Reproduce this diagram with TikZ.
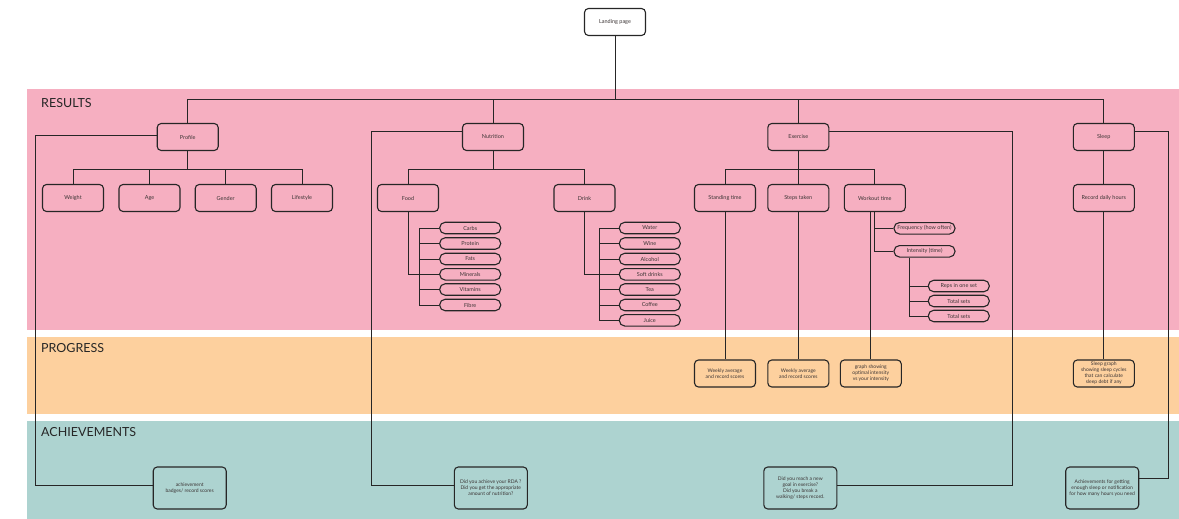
\documentclass[tikz,border=0pt]{standalone}
\usepackage{fontspec}
\setmainfont{Lato}
\definecolor{resultsbg}{HTML}{F6AFC1}
\definecolor{progressbg}{HTML}{FDD09E}
\definecolor{achievebg}{HTML}{ADD3D0}
\definecolor{ink}{HTML}{262626}
\definecolor{boxtext}{HTML}{3C3535}
\begin{document}
\begin{tikzpicture}[x=1pt,y=-1pt,
  card/.style={draw=ink, line width=1.1pt, rounded corners=4pt,
    minimum width=61pt, minimum height=27pt, inner sep=0pt,
    align=center, text=boxtext, font=\fontsize{5.5}{6}\selectfont},
  pill/.style={card, rounded corners=5.5pt, minimum height=11.5pt},
  notecard/.style={card, font=\fontsize{5}{6}\selectfont},
  bigcard/.style={notecard, minimum width=73pt, minimum height=42pt},
  wire/.style={draw=ink, line width=1pt},
  bandlabel/.style={anchor=west, inner sep=0pt, text=black!85,
    font=\fontsize{12.5}{13}\selectfont}
]
\useasboundingbox (0,0) rectangle (1179,519);

% coloured bands
\fill[resultsbg]  (26.5,89)    rectangle (1179,330);
\fill[progressbg] (26.5,336.7) rectangle (1179,414);
\fill[achievebg]  (26.5,421)   rectangle (1179,519);
\node[bandlabel] (lblresults) at (41,103) {RESULTS};
\node[bandlabel] (lblprogress) at (41,348.5) {PROGRESS};
\node[bandlabel] (lblachieve) at (41,432.5) {ACHIEVEMENTS};

% top level
\node[card, fill=white] (landing) at (615,22) {Landing page};
\node[card] (profile)   at (187.7,137) {Profile};
\node[card] (nutrition) at (493,137)   {Nutrition};
\node[card] (exercise)  at (798.3,137) {Exercise};
\node[card] (sleep)     at (1103.8,137) {Sleep};

% second level
\node[card] (weight)    at (73,198)    {Weight};
\node[card] (age)       at (149.5,198) {Age};
\node[card] (gender)    at (225.7,198) {Gender};
\node[card] (lifestyle) at (302,198)   {Lifestyle};
\node[card] (food)      at (408,198)   {Food};
\node[card] (drink)     at (584.5,198) {Drink};
\node[card] (standing)  at (725,198)   {Standing time};
\node[card] (steps)     at (798.3,198) {Steps taken};
\node[card] (workout)   at (874.8,198) {Workout time};
\node[card] (record)    at (1103.8,198) {Record daily hours};

% food items
\node[pill] (carbs)    at (470.2,228)   {Carbs};
\node[pill] (protein)  at (470.2,243.5) {Protein};
\node[pill] (fats)     at (470.2,259)   {Fats};
\node[pill] (minerals) at (470.2,274.3) {Minerals};
\node[pill] (vitamins) at (470.2,289.5) {Vitamins};
\node[pill] (fibre)    at (470.2,305)   {Fibre};

% drink items
\node[pill] (water)      at (649.8,228)   {Water};
\node[pill] (wine)       at (649.8,243.5) {Wine};
\node[pill] (alcohol)    at (649.8,259)   {Alcohol};
\node[pill] (softdrinks) at (649.8,274.3) {Soft drinks};
\node[pill] (tea)        at (649.8,289.5) {Tea};
\node[pill] (coffee)     at (649.8,305)   {Coffee};
\node[pill] (juice)      at (649.8,320.3) {Juice};

% workout items
\node[pill] (freq)      at (924.5,228.3) {Frequency (how often)};
\node[pill] (intensity) at (924.5,251.3) {Intensity (time)};
\node[pill] (reps)      at (958.8,286)   {Reps in one set};
\node[pill] (totalA)    at (958.8,301)   {Total sets};
\node[pill] (totalB)    at (958.8,316)   {Total sets};

% progress
\node[notecard] (weekA) at (725,373.5)   {Weekly average\\and record scores};
\node[notecard] (weekB) at (798.3,373.5) {Weekly average\\and record scores};
\node[notecard] (graph) at (870.8,373.5) {graph showing\\optimal intensity\\vs your intensity};
\node[notecard] (sleepgraph) at (1103.8,373.5) {Sleep graph\\showing sleep cycles\\that can calculate\\sleep debt if any};

% achievements
\node[bigcard] (profach) at (189.7,488) {achievement\\badges/ record scores};
\node[bigcard] (rda) at (490.8,488) {Did you achieve your RDA ?\\Did you get the appropriate\\amount of nutrition?};
\node[bigcard] (exach) at (800.3,488) {Did you reach a new\\goal in exercise?\\Did you break a\\walking/ steps record.};
\node[bigcard] (sleepach) at (1102.2,488) {Achievements for getting\\enough sleep or notification\\for how many hours you need};

% junctions and bends
\coordinate (topbus) at (615,100);
\coordinate (pbus) at (187.7,169.3);
\coordinate (nbus) at (493,169.3);
\coordinate (ebus) at (798.3,169.3);
\coordinate (pc) at (35,485.7);
\coordinate (nc) at (371,485.7);
\coordinate (ec) at (1012.3,485.7);
\coordinate (sc) at (1168.7,478);

% landing page to sections
\draw[wire] (landing.south) -- (topbus);
\draw[wire] (profile.north) |- (topbus);
\draw[wire] (sleep.north) |- (topbus);
\draw[wire] (nutrition.north) -- (nutrition.north |- topbus);
\draw[wire] (exercise.north) -- (exercise.north |- topbus);

% section children
\draw[wire] (profile.south) -- (pbus);
\foreach \n in {weight,age,gender,lifestyle} \draw[wire] (\n.north) |- (pbus);
\draw[wire] (nutrition.south) -- (nbus);
\foreach \n in {food,drink} \draw[wire] (\n.north) |- (nbus);
\draw[wire] (exercise.south) -- (ebus);
\foreach \n in {standing,steps,workout} \draw[wire] (\n.north) |- (ebus);
\draw[wire] (sleep.south) -- (record.north);

% food list
\draw[wire] (food.south) |- (minerals.west);
\draw[wire] (carbs.west) -- ++(-19.4,0) |- (fibre.west);
\foreach \n in {protein,fats,vitamins} \draw[wire] (\n.west) -- ++(-19.4,0);

% drink list
\draw[wire] (drink.south) |- (softdrinks.west);
\draw[wire] (water.west) -- ++(-19.3,0) |- (juice.west);
\foreach \n in {wine,alcohol,tea,coffee} \draw[wire] (\n.west) -- ++(-19.3,0);

% workout list
\draw[wire] (workout.south) |- (intensity.west);
\draw[wire] (freq.west) -- (freq.west -| workout.south);
\draw[wire] ([xshift=-15.2pt]intensity.south) |- (totalB.west);
\foreach \n in {reps,totalA} \draw[wire] (\n.west) -- ++(-19,0);

% into progress
\draw[wire] (standing.south) -- (weekA.north);
\draw[wire] (steps.south) -- (weekB.north);
\draw[wire] (graph.north) -- (graph.north |- workout.south);
\draw[wire] (record.south) -- (sleepgraph.north);

% into achievements
\draw[wire] ([yshift=2pt]profile.west) -| (pc) -- (pc -| profach.west);
\draw[wire] ([yshift=6pt]nutrition.west) -| (nc) -- (nc -| rda.west);
\draw[wire] ([yshift=6pt]exercise.east) -| (ec) -- (ec -| exach.east);
\draw[wire] ([yshift=6pt]sleep.east) -| (sc) -- (sc -| sleepach.east);
\end{tikzpicture}
\end{document}
